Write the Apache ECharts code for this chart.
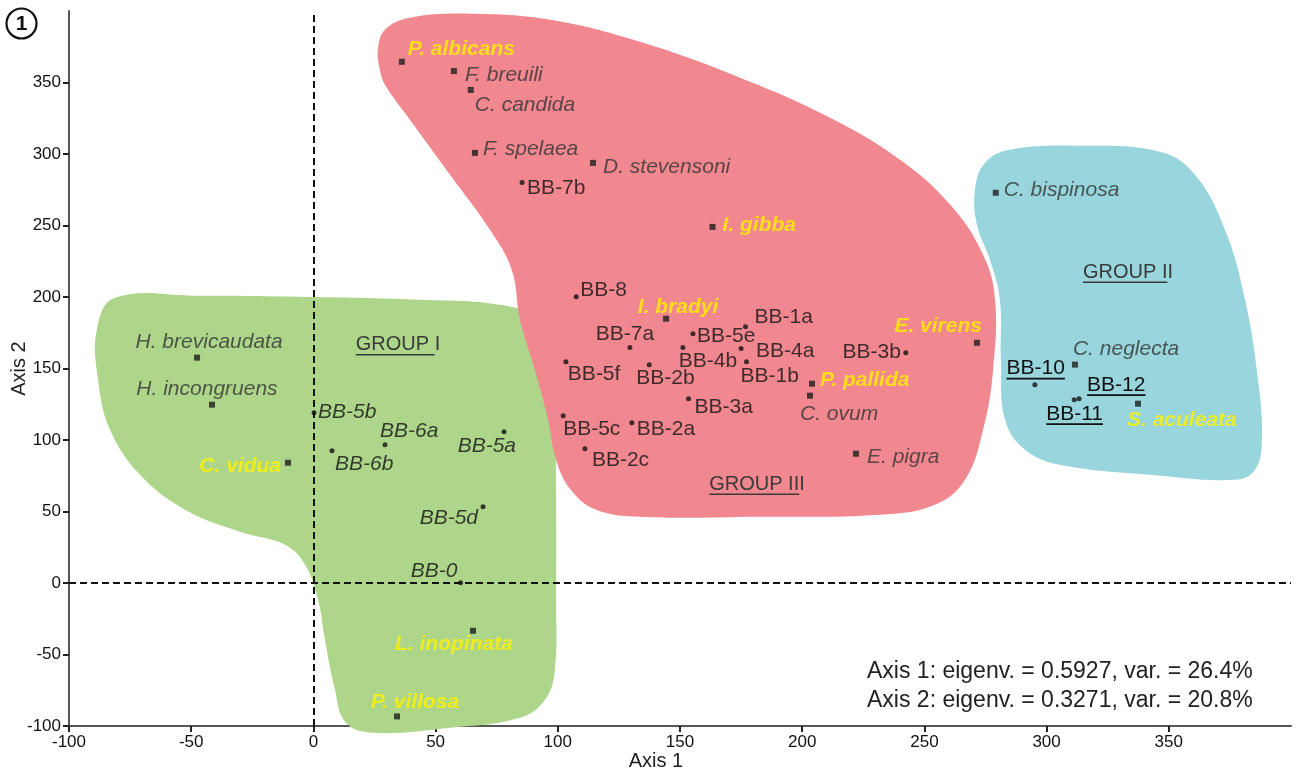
<!DOCTYPE html>
<html>
<head>
<meta charset="utf-8">
<title>Ordination – Axis 1 / Axis 2</title>
<script src="https://cdn.jsdelivr.net/npm/echarts@6/dist/echarts.min.js"></script>
<style>
  html, body { margin: 0; padding: 0; background: #fff; }
  #chart { width: 1299px; height: 776px; }
</style>
</head>
<body>
<div id="chart"></div>
<script>
// ---- ordination scores -------------------------------------------------
const speciesNames = ['P. albicans', 'F. breuili', 'C. candida', 'F. spelaea', 'D. stevensoni',
  'I. gibba', 'C. bispinosa', 'I. bradyi', 'C. ovum', 'P. pallida', 'E. virens', 'E. pigra',
  'C. neglecta', 'S. aculeata', 'H. brevicaudata', 'H. incongruens', 'C. vidua',
  'L. inopinata', 'P. villosa'];
const speciesAxis1 = [36.2, 57.5, 64.4, 66.1, 114.4, 163.3, 279.2, 144.3, 203.2, 204.0,
  271.5, 222.0, 311.6, 337.4, -47.6, -41.5, -10.4, 65.3, 34.2];
const speciesAxis2 = [364.5, 358.0, 344.8, 300.8, 293.8, 249.0, 272.9, 184.8, 131.0, 139.4,
  168.0, 90.4, 152.7, 125.4, 157.6, 124.7, 84.1, -33.4, -93.3];
// species shown in bold yellow
const highlightedSpecies = ['P. albicans', 'I. gibba', 'I. bradyi', 'P. pallida', 'E. virens',
  'S. aculeata', 'C. vidua', 'L. inopinata', 'P. villosa'];

const sampleNames = ['BB-7b', 'BB-8', 'BB-7a', 'BB-5e', 'BB-1a', 'BB-4b', 'BB-4a', 'BB-1b',
  'BB-5f', 'BB-2b', 'BB-3a', 'BB-5c', 'BB-2a', 'BB-2c', 'BB-3b', 'BB-10', 'BB-12', 'BB-11',
  'BB-5b', 'BB-6a', 'BB-6b', 'BB-5a', 'BB-5d', 'BB-0'];
const sampleAxis1 = [85.4, 107.5, 129.5, 155.3, 176.8, 151.2, 175.0, 177.2, 103.3, 137.4,
  153.5, 102.2, 130.3, 111.1, 242.4, 295.2, 313.3, 311.3, 0.25, 29.3, 7.6, 78.0, 69.4, 60.2];
const sampleAxis2 = [280.0, 200.2, 164.6, 174.3, 179.2, 164.6, 164.0, 154.8, 154.8, 152.7,
  128.9, 117.0, 112.1, 93.9, 161.0, 138.7, 128.9, 128.2, 119.1, 96.7, 92.5, 105.8, 53.4, 0.2];
const sampleGroup = ['III', 'III', 'III', 'III', 'III', 'III', 'III', 'III', 'III', 'III',
  'III', 'III', 'III', 'III', 'III', 'II', 'II', 'II', 'I', 'I', 'I', 'I', 'I', 'I'];

const groupNames = ['GROUP I', 'GROUP II', 'GROUP III'];
const groupLabelAxis1 = [34.6, 333.3, 181.5];
const groupLabelAxis2 = [166.6, 217.3, 69.1];

// group envelopes, outline vertices in axis units
const groupIOutline = [[-88.6, 177.1], [-81.2, 199.5], [-46.4, 200.9], [-5.5, 200.2],
  [43.6, 198.1], [76.3, 194.6], [90.6, 185.5], [96.8, 166.6], [98.8, 128.2], [99.3, 58.3],
  [99.3, -11.7], [98.8, -60.6], [94.8, -81.6], [84.5, -94.2], [55.9, -101.2], [23.2, -104.6],
  [12.9, -96.9], [8.8, -74.5], [4.7, -39.6], [1.9, -11.7], [-3.4, 12.8], [-11.6, 26.8],
  [-30.0, 35.9], [-52.5, 51.3], [-70.9, 75.7], [-83.2, 107.2], [-88.1, 142.2]];
const groupIIOutline = [[270.7, 275.0], [274.8, 293.9], [285.0, 303.0], [313.7, 305.8],
  [346.4, 301.6], [360.7, 285.5], [373.0, 247.0], [381.2, 198.1], [386.5, 142.2],
  [388.1, 100.2], [385.3, 79.2], [377.1, 72.2], [342.3, 75.7], [305.5, 82.7], [291.2, 93.2],
  [283.0, 114.2], [281.3, 156.2], [280.9, 198.1], [276.8, 226.1], [271.5, 250.6]];
const groupIIIOutline = [[26.4, 372.9], [29.3, 386.9], [39.5, 395.3], [64.1, 398.1],
  [96.8, 393.9], [133.6, 378.5], [174.6, 353.4], [211.4, 325.4], [240.0, 296.0],
  [260.5, 264.6], [274.0, 229.6], [278.9, 198.1], [278.1, 149.2], [274.0, 107.2],
  [266.6, 72.2], [254.3, 54.7], [231.8, 47.7], [182.7, 46.3], [133.6, 46.3], [115.2, 51.6],
  [105.0, 65.9], [99.3, 86.2], [96.0, 114.2], [90.6, 149.2], [84.5, 184.1], [81.2, 218.9],
  [72.3, 246.9], [55.9, 285.5], [39.5, 324.0], [29.3, 348.5], [27.2, 359.0]];

const tickValues = [-100, -50, 0, 50, 100, 150, 200, 250, 300, 350];

// ---- label placement: [dx, dy, align] from the marker centre -------------
const labelPlace = {
  'P. albicans': [6, -13, 'left'], 'F. breuili': [11, 4, 'left'], 'C. candida': [4, 15, 'left'],
  'F. spelaea': [8, -4, 'left'], 'D. stevensoni': [10, 4, 'left'], 'I. gibba': [10, -2, 'left'],
  'C. bispinosa': [8, -3, 'left'], 'I. bradyi': [12, -12, 'center'], 'C. ovum': [-10, 18, 'left'],
  'P. pallida': [8, -3, 'left'], 'E. virens': [5, -17, 'right'], 'E. pigra': [11, 3, 'left'],
  'C. neglecta': [-2, -15, 'left'], 'S. aculeata': [-11, 17, 'left'],
  'H. brevicaudata': [12, -15, 'center'], 'H. incongruens': [-5, -16, 'center'],
  'C. vidua': [-7, 3, 'right'], 'L. inopinata': [-19, 13, 'center'], 'P. villosa': [18, -14, 'center'],
  'BB-7b': [5, 6, 'left'], 'BB-8': [4, -7, 'left'], 'BB-7a': [-5, -13, 'center'],
  'BB-5e': [4, 2, 'left'], 'BB-1a': [9, -10, 'left'], 'BB-4b': [25, 14, 'center'],
  'BB-4a': [15, 3, 'left'], 'BB-1b': [-6, 15, 'left'], 'BB-5f': [2, 13, 'left'],
  'BB-2b': [-13, 14, 'left'], 'BB-3a': [6, 9, 'left'], 'BB-5c': [0, 14, 'left'],
  'BB-2a': [5, 7, 'left'], 'BB-2c': [7, 11, 'left'], 'BB-3b': [-5, -1, 'right'],
  'BB-10': [30, -16, 'right'], 'BB-12': [8, -13.5, 'left'], 'BB-11': [-28, 14.5, 'left'],
  'BB-5b': [4, -1, 'left'], 'BB-6a': [-5, -14, 'left'], 'BB-6b': [3, 13, 'left'],
  'BB-5a': [12, 14, 'right'], 'BB-5d': [-5, 12, 'right'], 'BB-0': [-3, -12, 'right']
};

// ---- styles -----------------------------------------------------------
const FONT = '"Liberation Sans", Arial, Helvetica, sans-serif';
const LABEL_SIZE = 21;
const speciesText = { color: '#333333', fontStyle: 'italic', fontWeight: 'normal' };
const typeText = { color: '#fff200', fontStyle: 'italic', fontWeight: 'bold' };
const sampleText = {
  I: { color: '#111111', fontStyle: 'italic', fontWeight: 'normal' },
  II: { color: '#111111', fontStyle: 'normal', fontWeight: 'normal' },
  III: { color: '#111111', fontStyle: 'normal', fontWeight: 'normal' }
};
const envelopeColors = { I: '#aed68b', II: '#98d5dc', III: '#f1878f' };

const measureCtx = document.createElement('canvas').getContext('2d');
function textWidth(text, font) {
  measureCtx.font = font;
  return measureCtx.measureText(text).width;
}

function pointLabel(name, style) {
  const p = labelPlace[name];
  return {
    show: true, position: 'inside', formatter: name,
    align: p[2], verticalAlign: 'middle', offset: [p[0], p[1]],
    fontSize: LABEL_SIZE, fontFamily: FONT, textBorderWidth: 0,
    color: style.color, fontStyle: style.fontStyle, fontWeight: style.fontWeight
  };
}

function envelopeSeries(outline, color) {
  return {
    type: 'custom', coordinateSystem: 'cartesian2d', clip: false, silent: true, z: 1,
    data: [[outline[0][0], outline[0][1]]],
    renderItem: function (params, api) {
      return {
        type: 'polygon',
        shape: { points: outline.map(p => api.coord(p)), smooth: 0.4 },
        style: { fill: color }
      };
    }
  };
}

// text with a rule beneath it
function underlinedText(pt, text, dx, dy, align, font, color, ruleText) {
  const w = textWidth(ruleText, font);
  const x = pt[0] + dx;
  const y = pt[1] + dy;
  const x0 = align === 'center' ? x - textWidth(text, font) / 2 : align === 'right' ? x - textWidth(text, font) : x;
  return {
    type: 'group',
    children: [
      { type: 'text', x: x, y: y, style: { text: text, font: font, fill: color, align: align, verticalAlign: 'middle' } },
      { type: 'line', shape: { x1: x0, y1: y + 10, x2: x0 + w, y2: y + 10 }, style: { stroke: color, lineWidth: 1.6 } }
    ]
  };
}

// ---- series data --------------------------------------------------------
const speciesData = speciesNames.map((n, i) => ({
  name: n,
  value: [speciesAxis1[i], speciesAxis2[i]],
  label: pointLabel(n, highlightedSpecies.includes(n) ? typeText : speciesText)
}));
const sampleData = sampleNames.map((n, i) => ({
  name: n,
  value: [sampleAxis1[i], sampleAxis2[i]],
  label: sampleGroup[i] === 'II' ? { show: false } : pointLabel(n, sampleText[sampleGroup[i]])
}));
const underlinedSamples = sampleNames.map((n, i) => i).filter(i => sampleGroup[i] === 'II');

const axisCommon = {
  type: 'value', min: -100, max: 400, interval: 50,
  nameLocation: 'middle', nameMoveOverlap: false,
  nameTextStyle: { fontSize: 20, color: '#222', fontFamily: FONT },
  axisLine: { show: true, onZero: false, lineStyle: { color: '#555', width: 2 } },
  axisTick: { show: true, length: 6, customValues: tickValues, lineStyle: { color: '#222', width: 2 } },
  axisLabel: { fontSize: 17, color: '#111', fontFamily: FONT, margin: 8, customValues: tickValues },
  splitLine: { show: false }
};

const chart = echarts.init(document.getElementById('chart'), null, { renderer: 'canvas' });
chart.setOption({
  animation: false,
  backgroundColor: '#ffffff',
  grid: { left: 69, right: 8, top: 11, bottom: 50, containLabel: false, outerBoundsMode: 'none' },
  xAxis: Object.assign({}, axisCommon, {
    name: 'Axis 1', nameGap: 25,
    nameTextStyle: { fontSize: 20, color: '#222', fontFamily: FONT, padding: [0, 48, 0, 0] }
  }),
  yAxis: Object.assign({}, axisCommon, { name: 'Axis 2', nameGap: 40 }),
  graphic: [
    { type: 'circle', shape: { cx: 21.5, cy: 23.5, r: 15 }, style: { fill: 'none', stroke: '#111', lineWidth: 2.2 } },
    { type: 'text', x: 21.5, y: 24.5, style: { text: '1', font: 'bold 21px ' + FONT, fill: '#111', align: 'center', verticalAlign: 'middle' } },
    { type: 'text', x: 867, y: 672, style: { text: 'Axis 1: eigenv. = 0.5927, var. = 26.4%', font: '23px ' + FONT, fill: '#222', verticalAlign: 'middle' } },
    { type: 'text', x: 867, y: 701, style: { text: 'Axis 2: eigenv. = 0.3271, var. = 20.8%', font: '23px ' + FONT, fill: '#222', verticalAlign: 'middle' } }
  ],
  series: [
    envelopeSeries(groupIOutline, envelopeColors.I),
    envelopeSeries(groupIIIOutline, envelopeColors.III),
    envelopeSeries(groupIIOutline, envelopeColors.II),
    {
      name: 'species', type: 'scatter', z: 5, symbol: 'rect', symbolSize: 6,
      itemStyle: { color: '#1e1e1e' }, data: speciesData, silent: true,
      markLine: {
        silent: true, symbol: 'none', label: { show: false }, z: 3,
        lineStyle: { color: '#111', width: 2, type: [7, 4] },
        data: [{ xAxis: 0 }, { yAxis: 0 }]
      }
    },
    {
      name: 'samples', type: 'scatter', z: 6, symbol: 'circle', symbolSize: 5,
      itemStyle: { color: '#111' }, data: sampleData, silent: true
    },
    {
      name: 'sample labels', type: 'custom', coordinateSystem: 'cartesian2d', clip: false, silent: true, z: 7,
      data: underlinedSamples.map(i => [sampleAxis1[i], sampleAxis2[i], i]),
      renderItem: function (params, api) {
        const i = api.value(2);
        const n = sampleNames[i];
        const p = labelPlace[n];
        return underlinedText(api.coord([api.value(0), api.value(1)]), n, p[0], p[1], p[2],
          LABEL_SIZE + 'px ' + FONT, '#111', n);
      }
    },
    {
      name: 'group labels', type: 'custom', coordinateSystem: 'cartesian2d', clip: false, silent: true, z: 7,
      data: groupNames.map((g, i) => [groupLabelAxis1[i], groupLabelAxis2[i], i]),
      renderItem: function (params, api) {
        const g = groupNames[api.value(2)];
        return underlinedText(api.coord([api.value(0), api.value(1)]), g, 0, 0, 'center',
          '20px ' + FONT, '#3a3a3a', g.slice(0, -1));
      }
    }
  ]
});
</script>
</body>
</html>
